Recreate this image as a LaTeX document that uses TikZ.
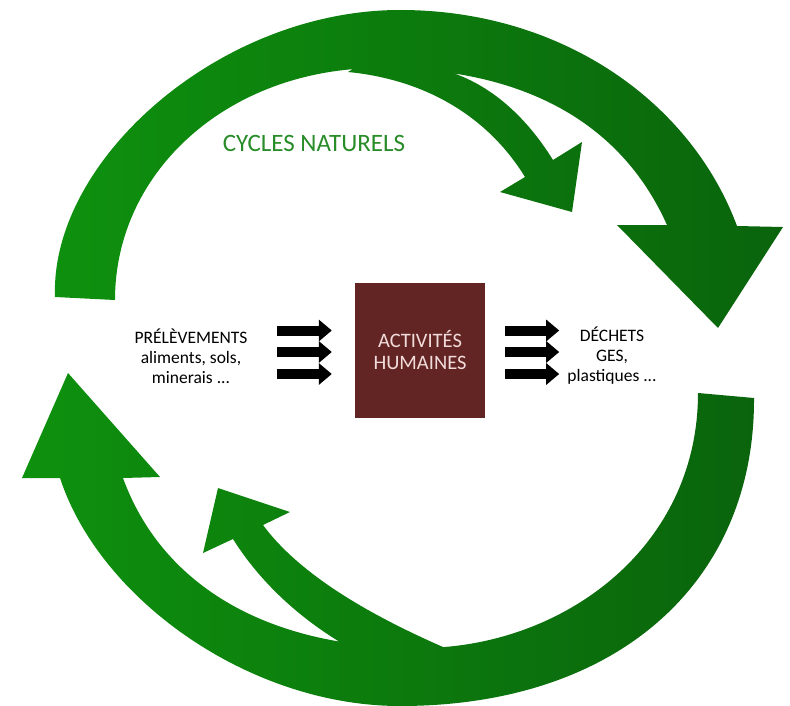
\documentclass[tikz,border=0pt]{standalone}
\usepackage{fontspec}
\setmainfont{Carlito}
\usepackage{tikz}
\usetikzlibrary{arrows.meta,calc}
\definecolor{boxred}{RGB}{99,37,35}
\definecolor{boxtext}{RGB}{242,220,219}
\definecolor{greenlight}{RGB}{14,145,14}
\definecolor{greendark}{RGB}{10,100,12}
\definecolor{titlegreen}{RGB}{40,140,40}

\begin{document}
\begin{tikzpicture}[x=1pt,y=-1pt,
  greenflow/.style={left color=greenlight,right color=greendark},
  blkarrow/.style={line width=10pt,-{Triangle[length=13pt,width=21pt]}},
  txt/.style={align=center,font=\fontsize{17.5}{20}\selectfont}]
  \useasboundingbox (0,0) rectangle (790,706);

  % upper cycle: big arrow and branch
  \shade[greenflow]
    (55,297) .. controls (50,160) and (220,10) .. (400,10)
    .. controls (560,10) and (690,100) .. (737,226)
    -- (783,227) -- (718,328) -- (617,225) -- (667,225)
    .. controls (620,120) and (520,68) .. (380,68)
    .. controls (230,68) and (115,170) .. (115,300) -- cycle
    (400,40) -- (450,72) .. controls (490,85) and (525,115) .. (553,160)
    -- (582,142) -- (572,212) -- (500,192) -- (525,177)
    .. controls (490,120) and (430,80) .. (348,72) -- cycle;

  % lower cycle: big arrow and branch
  \shade[greenflow]
    (754,398) .. controls (755,580) and (620,706) .. (400,706)
    .. controls (250,706) and (100,600) .. (60,478)
    -- (22,478) -- (68,373) -- (160,477) -- (123,478)
    .. controls (160,580) and (260,648) .. (420,648)
    .. controls (560,648) and (698,550) .. (698,393) -- cycle
    (400,672) .. controls (320,640) and (265,590) .. (233,539)
    -- (203,553) -- (218,488) -- (290,512) -- (263,525)
    .. controls (300,575) and (370,615) .. (443,647) -- (430,672) -- cycle;

  \node[text=titlegreen,font=\fontsize{25}{29}\selectfont] (title) at (314,143) {CYCLES NATURELS};

  \node[fill=boxred,text=boxtext,minimum width=130pt,minimum height=135pt,
        align=center,font=\fontsize{20.5}{22}\selectfont] (box) at (420,350.5) {ACTIVITÉS\\HUMAINES};
  \node[txt] (prel) at (191,356) {PRÉLÈVEMENTS\\aliments, sols,\\minerais ...};
  \node[txt] (dechets) at (612,356) {DÉCHETS\\GES,\\plastiques ...};

  % three flows on each side of the box
  \foreach \dy in {-20,1.5,23.5} {
    \draw[blkarrow] ($(box.west)+(-78,\dy)$) -- ($(box.west)+(-23,\dy)$);
    \draw[blkarrow] ($(box.east)+(20,\dy)$) -- ($(box.east)+(74,\dy)$);
  }
\end{tikzpicture}
\end{document}
